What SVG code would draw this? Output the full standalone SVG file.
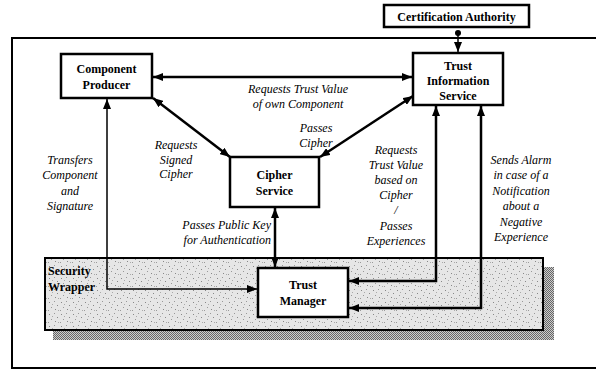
<svg xmlns="http://www.w3.org/2000/svg" width="596" height="370" viewBox="0 0 596 370">
<style>
.box{fill:#fff;stroke:#000;stroke-width:2.5}
.bl{font-family:"Liberation Serif","Times New Roman","DejaVu Serif",serif;font-weight:bold;font-size:12px;text-anchor:middle}
.it{font-family:"Liberation Serif","Times New Roman","DejaVu Serif",serif;font-style:italic;font-size:12px;text-anchor:middle}
.c{fill:none;stroke:#000;stroke-width:2.5}
.t{fill:none;stroke:#000;stroke-width:1.5}
</style>
<defs>
<marker id="ah" viewBox="0 0 10 8" refX="10" refY="4" markerWidth="10" markerHeight="8" markerUnits="userSpaceOnUse" orient="auto-start-reverse">
<path d="M0,0 L10,4 L0,8 z" fill="#000"/>
</marker>
<pattern id="speck" width="12" height="12" patternUnits="userSpaceOnUse">
<rect width="12" height="12" fill="#e6e6e6"/>
<rect x="1" y="2" width="1" height="1" fill="#888"/>
<rect x="6" y="1" width="1" height="1" fill="#999"/>
<rect x="9" y="5" width="1" height="1" fill="#888"/>
<rect x="3" y="7" width="1" height="1" fill="#999"/>
<rect x="7" y="9" width="1" height="1" fill="#888"/>
<rect x="10" y="10" width="1" height="1" fill="#aaa"/>
<rect x="4" y="4" width="1" height="1" fill="#aaa"/>
<rect x="0" y="10" width="1" height="1" fill="#999"/>
</pattern>
<pattern id="shade" width="2" height="2" patternUnits="userSpaceOnUse">
<rect width="2" height="2" fill="#ccc"/>
<rect width="1" height="1" fill="#666"/>
<rect x="1" y="1" width="1" height="1" fill="#666"/>
</pattern>
</defs>
<path d="M597,38 H12 V368 H597" fill="none" stroke="#000" stroke-width="2"/>
<g id="security-wrapper">
<rect x="53" y="267" width="501" height="73" fill="url(#shade)"/>
<rect x="45" y="258" width="498" height="72" fill="url(#speck)" stroke="#000" stroke-width="2"/>
<text class="bl" x="48" y="275" style="text-anchor:start">Security</text>
<text class="bl" x="48" y="291" style="text-anchor:start">Wrapper</text>
</g>
<g id="connectors">
<line class="c" x1="153" y1="77" x2="412" y2="77" marker-start="url(#ah)" marker-end="url(#ah)"/>
<line class="c" x1="153" y1="98" x2="230" y2="157" marker-start="url(#ah)" marker-end="url(#ah)"/>
<line class="c" x1="413" y1="96" x2="320" y2="157" marker-start="url(#ah)" marker-end="url(#ah)"/>
<path class="t" d="M107,99 V289 H257" marker-start="url(#ah)" marker-end="url(#ah)"/>
<line class="c" x1="275" y1="208" x2="275" y2="267" marker-start="url(#ah)" marker-end="url(#ah)"/>
<path class="c" d="M436,106 V281 H349" marker-start="url(#ah)" marker-end="url(#ah)"/>
<path class="c" d="M481,106 V308 H349" marker-start="url(#ah)" marker-end="url(#ah)"/>
<circle cx="458" cy="33" r="3" fill="#000"/>
<line class="t" x1="458" y1="33" x2="458" y2="52" marker-end="url(#ah)"/>
</g>
<g id="certification-authority">
<rect class="box" x="384" y="5" width="145" height="22"/>
<text class="bl" x="456.5" y="20.5">Certification Authority</text>
</g>
<g id="component-producer">
<rect class="box" x="61" y="54" width="91" height="44"/>
<text class="bl" x="106.5" y="73">Component</text>
<text class="bl" x="106.5" y="89">Producer</text>
</g>
<g id="trust-information-service">
<rect class="box" x="413" y="53" width="90" height="52"/>
<text class="bl" x="458" y="70">Trust</text>
<text class="bl" x="458" y="85">Information</text>
<text class="bl" x="458" y="100">Service</text>
</g>
<g id="cipher-service">
<rect class="box" x="230" y="157" width="89" height="50"/>
<text class="bl" x="274.5" y="179">Cipher</text>
<text class="bl" x="274.5" y="195">Service</text>
</g>
<g id="trust-manager">
<rect class="box" x="258" y="268" width="90" height="49"/>
<text class="bl" x="303" y="289">Trust</text>
<text class="bl" x="303" y="305">Manager</text>
</g>
<g id="labels">
<text class="it" x="298" y="93">Requests Trust Value</text>
<text class="it" x="298" y="108">of own Component</text>
<text class="it" x="176" y="149">Requests</text>
<text class="it" x="176" y="164">Signed</text>
<text class="it" x="176" y="178">Cipher</text>
<text class="it" x="316" y="132">Passes</text>
<text class="it" x="316" y="147">Cipher</text>
<text class="it" x="70" y="164">Transfers</text>
<text class="it" x="70" y="179">Component</text>
<text class="it" x="70" y="195">and</text>
<text class="it" x="70" y="210">Signature</text>
<text class="it" x="271" y="229" style="text-anchor:end">Passes Public Key</text>
<text class="it" x="271" y="244" style="text-anchor:end">for Authentication</text>
<text class="it" x="396" y="154">Requests</text>
<text class="it" x="396" y="169">Trust Value</text>
<text class="it" x="396" y="184">based on</text>
<text class="it" x="396" y="199">Cipher</text>
<text class="it" x="396" y="214">/</text>
<text class="it" x="396" y="230">Passes</text>
<text class="it" x="396" y="245">Experiences</text>
<text class="it" x="521" y="164">Sends Alarm</text>
<text class="it" x="521" y="179">in case of a</text>
<text class="it" x="521" y="195">Notification</text>
<text class="it" x="521" y="210">about a</text>
<text class="it" x="521" y="226">Negative</text>
<text class="it" x="521" y="241">Experience</text>
</g>
</svg>
